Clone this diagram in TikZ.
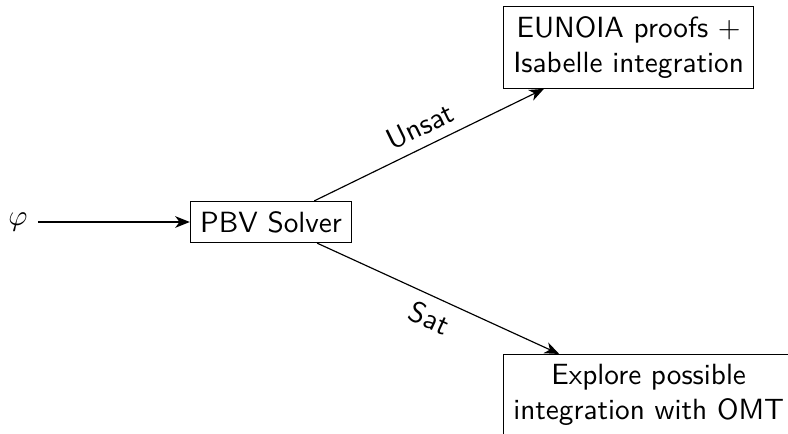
\documentclass[tikz,border=0pt]{standalone}
\usetikzlibrary{arrows.meta}
\begin{document}
\begin{tikzpicture}[x=0.342pt,y=-0.342pt,
  font=\sffamily,
  boxnode/.style={draw, align=center, inner sep=3.33pt, line width=0.4pt},
  conn/.style={-{Stealth[length=5pt,width=4pt,inset=1.5pt]}, line width=0.4pt}]
\clip (0,0) rectangle (788,434);
\useasboundingbox (0,0) rectangle (788,434);
\node (phi) at (18,222) {$\varphi$};
\node[boxnode] (pbv) at (271,222) {PBV Solver};
\node[boxnode, anchor=west] (top) at (503,47.5) {EUNOIA proofs $+$\\Isabelle integration};
\node[boxnode, anchor=west] (bot) at (503,395) {Explore possible\\integration with OMT};
\draw[conn] (phi) -- (pbv);
\draw[conn] (pbv) -- node[midway, above, sloped] {Unsat} (top);
\draw[conn] (pbv) -- node[midway, below, sloped] {Sat} (bot);
\end{tikzpicture}
\end{document}
